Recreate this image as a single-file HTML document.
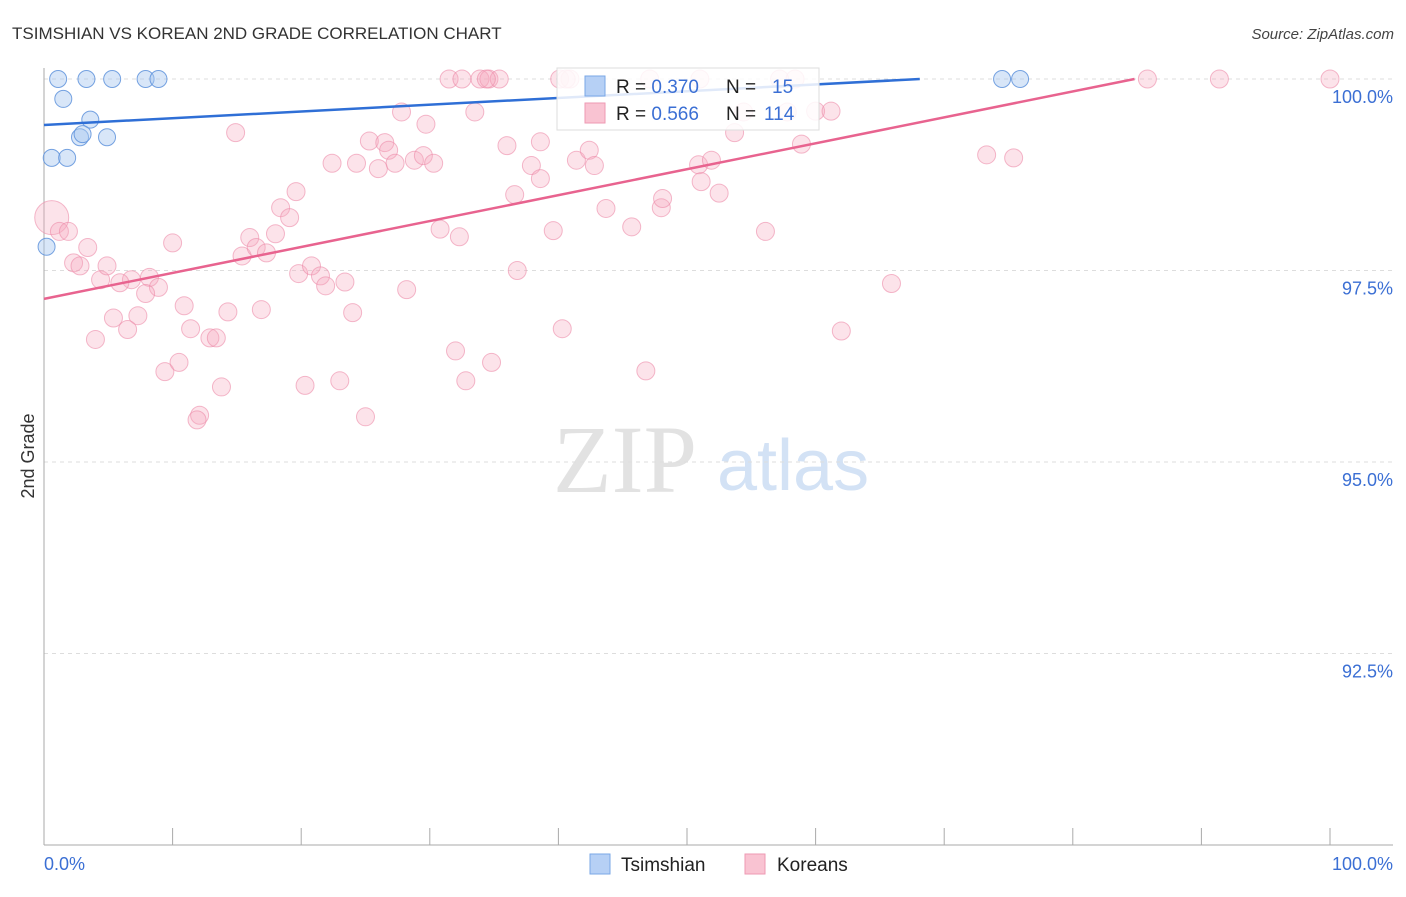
<!DOCTYPE html>
<html><head><meta charset="utf-8"><style>
body{margin:0;background:#fff;font-family:"Liberation Sans",sans-serif;}
</style></head><body>
<svg id="chart" width="1406" height="892" xmlns="http://www.w3.org/2000/svg" font-family="Liberation Sans, sans-serif">
<text x="12" y="39" font-size="17" fill="#333">TSIMSHIAN VS KOREAN 2ND GRADE CORRELATION CHART</text>
<text x="1394" y="39" font-size="15" fill="#444" font-style="italic" text-anchor="end">Source: ZipAtlas.com</text>
<g>
<text x="553" y="492" font-size="96" font-family="Liberation Serif, serif" fill="#e2e2e2">ZIP</text>
<text x="717" y="490" font-size="72" fill="#d3e2f5">atlas</text>
</g>
<g id="grid"></g>
<g id="ticks"></g>
<line x1="44" y1="845" x2="1393" y2="845" stroke="#aaa"/>
<line x1="44" y1="68" x2="44" y2="845" stroke="#aaa"/>
<text transform="translate(34,456) rotate(-90)" font-size="18" fill="#333" text-anchor="middle">2nd Grade</text>
<text x="44" y="870" font-size="18" fill="#3b6fd4">0.0%</text>
<text x="1393" y="870" font-size="18" fill="#3b6fd4" text-anchor="end">100.0%</text>
<g id="pink"></g>
<g id="blue"></g>
<g id="lines"></g>
<g>
<rect x="557" y="68" width="262" height="62" fill="#fff" fill-opacity="0.85" stroke="#ddd"/>
<rect x="585" y="76" width="20" height="20" fill="#b6d0f5" stroke="#7aa7e6"/>
<rect x="585" y="103" width="20" height="20" fill="#f9c3d2" stroke="#ee9ab3"/>
<text x="616" y="93" font-size="19" fill="#222">R = <tspan fill="#3b6fd4">0.370</tspan><tspan x="726">N =</tspan><tspan x="772" fill="#3b6fd4">15</tspan></text>
<text x="616" y="120" font-size="19" fill="#222">R = <tspan fill="#3b6fd4">0.566</tspan><tspan x="726">N =</tspan><tspan x="764" fill="#3b6fd4">114</tspan></text>
</g>
<g>
<rect x="590" y="854" width="20" height="20" fill="#b6d0f5" stroke="#7aa7e6"/>
<text x="621" y="871" font-size="19" fill="#222">Tsimshian</text>
<rect x="745" y="854" width="20" height="20" fill="#f9c3d2" stroke="#ee9ab3"/>
<text x="777" y="871" font-size="19" fill="#222">Koreans</text>
</g>
</svg>
<script>
const yTicks=[100,97.5,95,92.5];
const yTickLabels=["100.0%","97.5%","95.0%","92.5%"];
const xTicks=[0,10,20,30,40,50,60,70,80,90,100];
const blueX=[1.1,3.3,5.3,7.9,8.9,1.5,3.6,2.8,3.0,4.9,0.6,1.8,0.2,74.5,75.9];
const blueY=[100,100,100,100,100,99.74,99.47,99.24,99.28,99.24,98.97,98.97,97.81,100,100];
const pinkX=[0.6,1.2,1.9,3.4,2.3,2.8,4.4,4.9,6.8,5.9,8.2,8.9,7.9,5.4,7.3,6.5,4.0,10.0,10.9,11.4,12.9,13.4,14.3,9.4,10.5,13.8,12.1,11.9,14.9,16.0,15.4,16.5,17.3,18.0,18.4,19.1,19.6,16.9,19.8,20.8,21.5,21.9,23.4,24.0,20.3,23.0,25.0,22.4,24.3,25.3,26.0,26.5,26.8,27.3,27.8,28.8,29.5,29.7,30.3,28.2,30.8,31.5,32.3,32.0,32.8,33.5,33.9,34.6,35.4,34.4,34.8,36.0,36.6,36.8,37.9,38.6,38.6,39.6,40.3,40.1,40.9,41.4,42.4,42.8,43.7,45.7,46.8,48.0,48.1,47.1,51.0,50.9,51.9,51.1,52.5,53.7,54.4,56.1,57.8,57.2,58.4,60.0,61.2,58.9,62.0,65.9,73.3,75.4,85.8,91.4,100,40.6,32.5];
const pinkY=[98.19,98.01,98.01,97.80,97.60,97.56,97.38,97.56,97.38,97.34,97.41,97.28,97.20,96.88,96.91,96.73,96.60,97.86,97.04,96.74,96.62,96.62,96.96,96.18,96.30,95.98,95.61,95.55,99.30,97.93,97.69,97.80,97.73,97.98,98.32,98.19,98.53,96.99,97.46,97.56,97.43,97.30,97.35,96.95,96.00,96.06,95.59,98.90,98.90,99.19,98.83,99.17,99.07,98.90,99.57,98.94,99.00,99.41,98.90,97.25,98.04,100,97.94,96.45,96.06,99.57,100,100,100,100,96.30,99.13,98.49,97.50,98.87,99.18,98.70,98.02,96.74,100,100,98.94,99.07,98.87,98.31,98.07,96.19,98.32,98.44,100,100,98.88,98.94,98.66,98.51,99.30,99.57,98.01,99.57,100,100,99.58,99.58,99.15,96.71,97.33,99.01,98.97,100,100,100,100,100];
const blueTrend=[0,99.40,68.1,100];
const pinkTrend=[0,97.13,84.8,100];
const NS="http://www.w3.org/2000/svg";
const xs=v=>44+v*12.86;
const ys=v=>845-(v-90)*76.6;
function mk(tag,attrs,parent){const e=document.createElementNS(NS,tag);for(const k in attrs)e.setAttribute(k,attrs[k]);parent.appendChild(e);return e;}
const grid=document.getElementById('grid');
yTicks.forEach((t,i)=>{
 const l=mk('line',{x1:44,x2:1393,y1:ys(t),y2:ys(t),stroke:'#ddd','stroke-dasharray':'4 4'},grid);
 
 
 const tx=mk('text',{x:1393,y:ys(t)+24,'font-size':18,fill:'#3b6fd4','text-anchor':'end'},grid);
 tx.textContent=yTickLabels[i];
 
 
});
const tk=document.getElementById('ticks');
xTicks.forEach(t=>{
 const l=mk('line',{x1:xs(t),x2:xs(t),y1:828,y2:845,stroke:'#aaa'},tk);
 
 
});
const pg=document.getElementById('pink');
pinkX.forEach((x,i)=>{
 const c=mk('circle',{cx:xs(x),cy:ys(pinkY[i]),r:i===0?17:9,fill:'#f7a8bf','fill-opacity':0.32,stroke:'#ec8aa8','stroke-opacity':0.6},pg);
 
 
});
const bg=document.getElementById('blue');
blueX.forEach((x,i)=>{
 const c=mk('circle',{cx:xs(x),cy:ys(blueY[i]),r:8.5,fill:'#a9c7f0','fill-opacity':0.45,stroke:'#5f93dc','stroke-opacity':0.85},bg);
 
 
});
const lg=document.getElementById('lines');
const bl=mk('line',{x1:xs(blueTrend[0]),y1:ys(blueTrend[1]),x2:xs(blueTrend[2]),y2:ys(blueTrend[3]),stroke:'#2f6fd6','stroke-width':2.5},lg);


const pl=mk('line',{x1:xs(pinkTrend[0]),y1:ys(pinkTrend[1]),x2:xs(pinkTrend[2]),y2:ys(pinkTrend[3]),stroke:'#e8638f','stroke-width':2.5},lg);


</script>
</body></html>
